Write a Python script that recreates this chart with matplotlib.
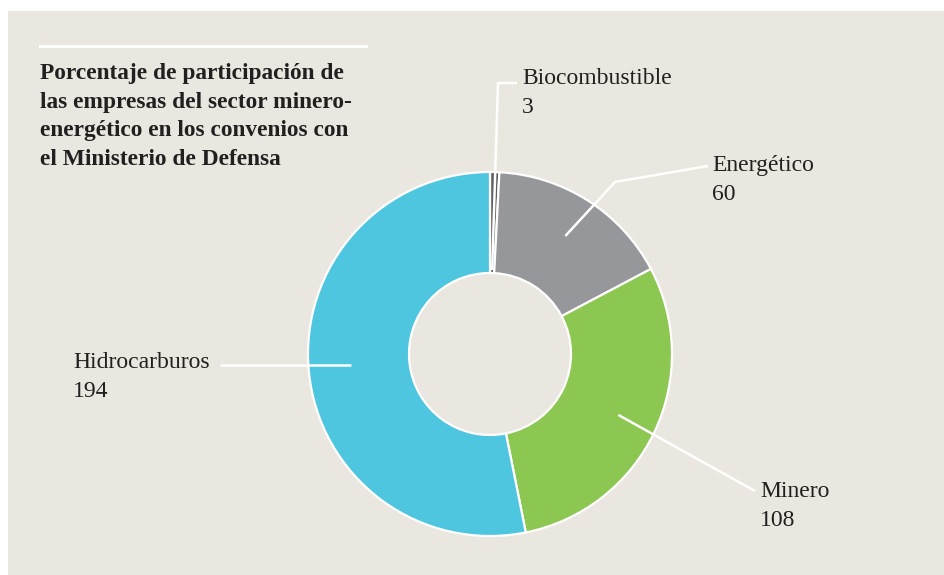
import numpy as np
import matplotlib.pyplot as plt
from matplotlib.patches import Rectangle

plt.rcParams['font.family'] = ['Liberation Serif', 'DejaVu Serif']

# Data
categories = ['Biocombustible', 'Energético', 'Minero', 'Hidrocarburos']
values = [3, 60, 108, 194]
colors = ['#5E5F61', '#96979B', '#8CC752', '#4EC6E0']

title_lines = ['Porcentaje de participación de',
               'las empresas del sector minero-',
               'energético en los convenios con',
               'el Ministerio de Defensa']

W, H = 944, 575
BG = '#EAE7E0'
TXT = '#231F20'

fig = plt.figure(figsize=(W / 100, H / 100), dpi=100, facecolor='white')
ax = fig.add_axes([0, 0, 1, 1])


def py(y):
    # pixel row (from top) -> data y
    return H - y


cx, cy = 490, py(354)
R_OUT, R_IN = 182, 81

ax.add_patch(Rectangle((8, 0), W - 8, H - 11, facecolor=BG, edgecolor='none', zorder=0))

wedges, _ = ax.pie(values, colors=colors, startangle=90, counterclock=False,
                   center=(cx, cy), radius=R_OUT,
                   wedgeprops=dict(width=R_OUT - R_IN, edgecolor='white', linewidth=1.6))
for w in wedges:
    w.set_zorder(2)

ax.set_xlim(0, W)
ax.set_ylim(0, H)
ax.set_aspect('equal')
ax.axis('off')

# label layout: start radius on the wedge, elbow points (px), text x, name baseline (px)
layout = {
    'Biocombustible': dict(r=84, pts=[(498, 83), (517, 83)], tx=522, base=84),
    'Energético': dict(r=140, pts=[(615, 182), (708, 166)], tx=712, base=171),
    'Minero': dict(r=142, pts=[(755, 491)], tx=760, base=497),
    'Hidrocarburos': dict(r=140, pts=[(220, 365)], tx=73, base=368),
}

for w, name, val in zip(wedges, categories, values):
    mid = np.deg2rad((w.theta1 + w.theta2) / 2)
    L = layout[name]
    x0 = cx + L['r'] * np.cos(mid)
    y0 = cy + L['r'] * np.sin(mid)
    xs = [x0] + [p[0] for p in L['pts']]
    ys = [y0] + [py(p[1]) for p in L['pts']]
    if name == 'Hidrocarburos':
        ys = [ys[-1]] * len(ys)
    ax.plot(xs, ys, color='white', lw=1.8, zorder=3, solid_capstyle='butt')
    ax.text(L['tx'], py(L['base']), name, ha='left', va='baseline',
            fontsize=17, color=TXT, zorder=4)
    ax.text(L['tx'], py(L['base'] + 29), str(val), ha='left', va='baseline',
            fontsize=17, color=TXT, zorder=4)

# title with white rule above
ax.plot([40, 366], [py(46), py(46)], color='white', lw=2.2, zorder=3)
for i, line in enumerate(title_lines):
    ax.text(40, py(79 + 28.7 * i), line, ha='left', va='baseline', fontsize=16.8,
            fontweight='bold', color=TXT, zorder=4)

fig.savefig('out.png', dpi=100, facecolor='white')
